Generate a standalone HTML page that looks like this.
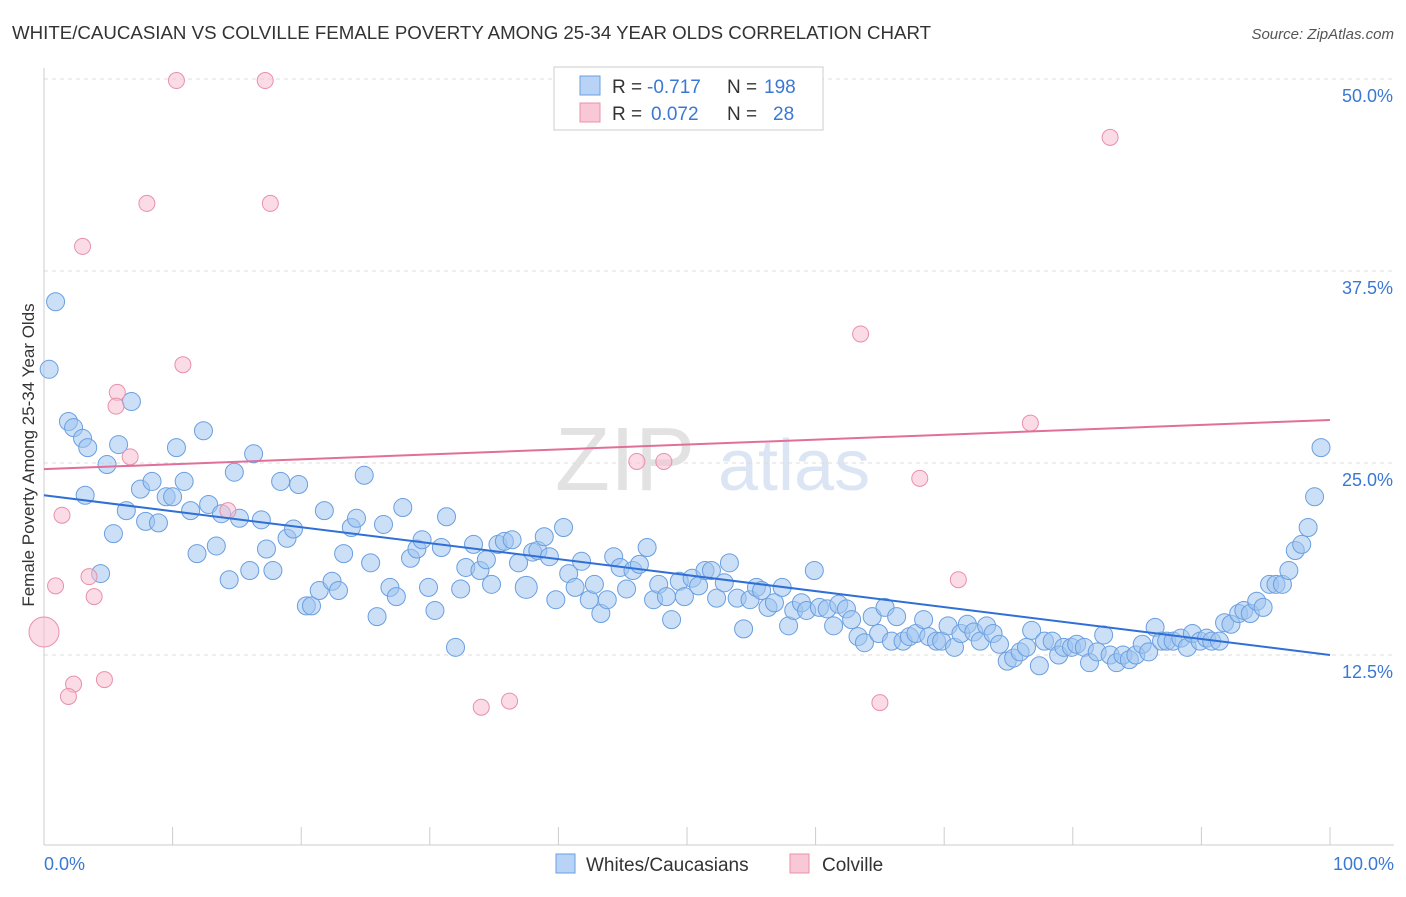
<!DOCTYPE html>
<html><head><meta charset="utf-8"><style>
body{margin:0;background:#fff;font-family:"Liberation Sans",sans-serif}
svg text{font-family:"Liberation Sans",sans-serif}
</style></head><body>
<svg id="c" width="1406" height="892">
<text x="12" y="39" font-size="18.7" fill="#333">WHITE/CAUCASIAN VS COLVILLE FEMALE POVERTY AMONG 25-34 YEAR OLDS CORRELATION CHART</text>
<text x="1394" y="39" font-size="15" fill="#555" text-anchor="end" font-style="italic">Source: ZipAtlas.com</text>
<text transform="translate(34,455) rotate(-90)" font-size="17" fill="#333" text-anchor="middle">Female Poverty Among 25-34 Year Olds</text>
<g><text x="555" y="490" font-size="90" fill="#e2e2e2" font-family="Liberation Serif">ZIP</text><text x="718" y="490" font-size="72" fill="#dbe5f4">atlas</text></g>
<g id="grid"></g><g id="axes"></g><g id="pts"></g><g id="trend"></g>
<g>
<rect x="554" y="67" width="269" height="63" fill="#fff" stroke="#ccc"/>
<rect x="580" y="76" width="20" height="19" fill="#b8d3f5" stroke="#6a9fe0"/>
<rect x="580" y="103" width="20" height="19" fill="#f9c8d6" stroke="#e890aa"/>
<text x="612" y="93" font-size="19" fill="#333">R =</text>
<text x="647" y="93" font-size="19" fill="#3a78d4">-0.717</text>
<text x="727" y="93" font-size="19" fill="#333">N =</text>
<text x="764" y="93" font-size="19" fill="#3a78d4">198</text>
<text x="612" y="120" font-size="19" fill="#333">R =</text>
<text x="651" y="120" font-size="19" fill="#3a78d4">0.072</text>
<text x="727" y="120" font-size="19" fill="#333">N =</text>
<text x="773" y="120" font-size="19" fill="#3a78d4">28</text>
</g>
<g>
<rect x="556" y="854" width="19" height="19" fill="#b8d3f5" stroke="#6a9fe0"/>
<text x="586" y="871" font-size="19" fill="#333">Whites/Caucasians</text>
<rect x="790" y="854" width="19" height="19" fill="#f9c8d6" stroke="#e890aa"/>
<text x="822" y="871" font-size="19" fill="#333">Colville</text>
</g>
<text x="44" y="870" font-size="18" fill="#3a78d4">0.0%</text>
<text x="1394" y="870" font-size="18" fill="#3a78d4" text-anchor="end">100.0%</text>
</svg>
<script>
const yTicks=[12.5,25,37.5,50];
const yTickLabels=["12.5%","25.0%","37.5%","50.0%"];
const blueX=[0.9,0.4,1.9,2.3,3.0,3.4,6.8,5.8,4.9,3.2,4.4,5.4,6.4,7.5,8.4,7.9,8.9,9.5,10.0,10.3,10.9,11.4,11.9,12.4,12.8,13.4,13.8,14.4,14.8,15.2,16.0,16.3,16.9,17.3,17.8,18.4,18.9,19.4,19.8,20.4,20.8,21.4,21.8,22.4,22.9,23.3,23.9,24.3,24.9,25.4,25.9,26.4,26.9,27.4,27.9,28.5,29.0,29.4,29.9,30.4,30.9,31.3,32.0,32.4,32.8,33.4,33.9,34.4,34.8,35.3,35.8,36.4,36.9,37.5,38.0,38.4,38.9,39.3,39.8,40.4,40.8,41.3,41.8,42.4,42.8,43.3,43.8,44.3,44.8,45.3,45.8,46.3,46.9,47.4,47.8,48.4,48.8,49.4,49.8,50.4,50.9,51.4,51.9,52.3,52.9,53.3,53.9,54.4,54.9,55.4,55.8,56.3,56.8,57.4,57.9,58.3,58.9,59.3,59.9,60.3,60.9,61.4,61.8,62.4,62.8,63.3,63.8,64.4,64.9,65.4,65.9,66.3,66.8,67.3,67.8,68.4,68.8,69.4,69.8,70.3,70.8,71.3,71.8,72.3,72.8,73.3,73.8,74.3,74.9,75.4,75.9,76.4,76.8,77.4,77.8,78.4,78.9,79.3,79.9,80.3,80.9,81.3,81.9,82.4,82.9,83.4,83.9,84.4,84.9,85.4,85.9,86.4,86.9,87.3,87.8,88.4,88.9,89.3,89.9,90.4,90.8,91.4,91.8,92.3,92.9,93.3,93.8,94.3,94.8,95.3,95.8,96.3,96.8,97.3,97.8,98.3,98.8,99.3];
const blueY=[35.5,31.1,27.7,27.3,26.6,26.0,29.0,26.2,24.9,22.9,17.8,20.4,21.9,23.3,23.8,21.2,21.1,22.8,22.8,26.0,23.8,21.9,19.1,27.1,22.3,19.6,21.7,17.4,24.4,21.4,18.0,25.6,21.3,19.4,18.0,23.8,20.1,20.7,23.6,15.7,15.7,16.7,21.9,17.3,16.7,19.1,20.8,21.4,24.2,18.5,15.0,21.0,16.9,16.3,22.1,18.8,19.4,20.0,16.9,15.4,19.5,21.5,13.0,16.8,18.2,19.7,18.0,18.7,17.1,19.7,19.9,20.0,18.5,16.9,19.2,19.3,20.2,18.9,16.1,20.8,17.8,16.9,18.6,16.1,17.1,15.2,16.1,18.9,18.2,16.8,18.0,18.4,19.5,16.1,17.1,16.3,14.8,17.3,16.3,17.5,17.0,18.0,18.0,16.2,17.2,18.5,16.2,14.2,16.1,16.9,16.7,15.6,15.9,16.9,14.4,15.4,15.9,15.4,18.0,15.6,15.5,14.4,15.8,15.5,14.8,13.7,13.3,15.0,13.9,15.6,13.4,15.0,13.4,13.7,13.9,14.8,13.7,13.4,13.4,14.4,13.0,13.9,14.5,14.0,13.4,14.4,13.9,13.2,12.1,12.3,12.7,13.0,14.1,11.8,13.4,13.4,12.5,13.0,13.0,13.2,13.0,12.0,12.7,13.8,12.5,12.0,12.5,12.2,12.5,13.2,12.7,14.3,13.4,13.4,13.4,13.6,13.0,13.9,13.4,13.6,13.4,13.4,14.6,14.5,15.2,15.4,15.2,16.0,15.6,17.1,17.1,17.1,18.0,19.3,19.7,20.8,22.8,26.0];
const pinkX=[0,3.0,10.3,17.2,8.0,17.6,10.8,5.7,5.6,6.7,1.4,0.9,3.5,3.9,14.3,2.3,1.9,4.7,34.0,36.2,46.1,48.2,63.5,65.0,68.1,71.1,76.7,82.9];
const pinkY=[14.0,39.1,49.9,49.9,41.9,41.9,31.4,29.6,28.7,25.4,21.6,17.0,17.6,16.3,21.9,10.6,9.8,10.9,9.1,9.5,25.1,25.1,33.4,9.4,24.0,17.4,27.6,46.2];
const blueTrend=[22.9,12.5];
const pinkTrend=[24.6,27.8];
const NS="http://www.w3.org/2000/svg";
const X=v=>44+v*12.86, Y=v=>847-v*15.36;
function mk(p,t,a){const e=document.createElementNS(NS,t);for(const k in a)e.setAttribute(k,a[k]);document.getElementById(p).appendChild(e);return e;}
yTicks.forEach((t,i)=>{
 let l=mk('grid','line',{x1:44,x2:1394,y1:Y(t),y2:Y(t),stroke:'#ddd','stroke-dasharray':'4,4'});
 
 
 let tx=mk('grid','text',{x:1393,y:Y(t)+23,'font-size':18,fill:'#3a78d4','text-anchor':'end'});
 tx.textContent=yTickLabels[i];
 
 
});
let ax=mk('axes','line',{x1:44,x2:1394,y1:845,y2:845,stroke:'#ccc'});


let ay=mk('axes','line',{x1:44,x2:44,y1:68,y2:845,stroke:'#ccc'});


for(let i=0;i<=10;i++){
 let t=mk('axes','line',{x1:X(i*10),x2:X(i*10),y1:827,y2:845,stroke:'#ccc'});
 
 
}
blueX.forEach((v,i)=>{
 let c=mk('pts','circle',{cx:X(v),cy:Y(blueY[i]),r:(i==73?11:9),fill:'rgba(160,196,240,0.55)',stroke:'#6a9fe0','stroke-width':1});
 
 
});
pinkX.forEach((v,i)=>{
 let c=mk('pts','circle',{cx:X(v),cy:Y(pinkY[i]),r:(i==0?15:8),fill:'rgba(248,190,208,0.55)',stroke:'#e890aa','stroke-width':1});
 
 
});
let bt=mk('trend','line',{x1:X(0),y1:Y(blueTrend[0]),x2:X(100),y2:Y(blueTrend[1]),stroke:'#2f6fd6','stroke-width':2});


let pt=mk('trend','line',{x1:X(0),y1:Y(pinkTrend[0]),x2:X(100),y2:Y(pinkTrend[1]),stroke:'#e0709a','stroke-width':2});


</script>
</body></html>
